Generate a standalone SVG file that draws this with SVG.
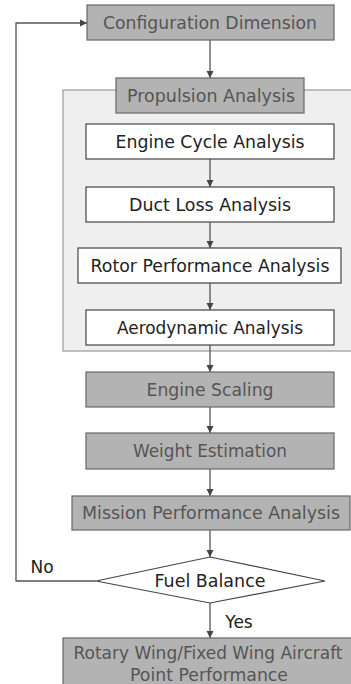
<svg xmlns="http://www.w3.org/2000/svg" width="351" height="684" viewBox="0 0 351 684">
<style>
text{font-family:"DejaVu Sans","Liberation Sans",sans-serif;font-size:17px;text-anchor:middle}
.g rect{fill:#b3b3b3;stroke:#666;stroke-width:1.2}
.g text{fill:#555}
.w rect{fill:#fff;stroke:#444;stroke-width:1.2}
.w text{fill:#222}
.c{fill:none;stroke:#555;stroke-width:1.3}
.lbl{fill:#222}
</style>
<defs>
<marker id="ah" markerWidth="8" markerHeight="8" refX="7" refY="4" orient="auto" markerUnits="userSpaceOnUse">
<path d="M0,0.5 L7,4 L0,7.5 Z" fill="#444"/>
</marker>
</defs>
<rect id="container" x="63" y="90" width="292" height="261" fill="#efefef" stroke="#999" stroke-width="1.2"/>
<g id="connectors">
<line class="c" x1="210" y1="40" x2="210" y2="78" marker-end="url(#ah)"/>
<line class="c" x1="210" y1="159" x2="210" y2="187" marker-end="url(#ah)"/>
<line class="c" x1="210" y1="222" x2="210" y2="248" marker-end="url(#ah)"/>
<line class="c" x1="210" y1="283" x2="210" y2="310" marker-end="url(#ah)"/>
<line class="c" x1="210" y1="345" x2="210" y2="372" marker-end="url(#ah)"/>
<line class="c" x1="210" y1="407" x2="210" y2="433" marker-end="url(#ah)"/>
<line class="c" x1="210" y1="469" x2="210" y2="496" marker-end="url(#ah)"/>
<line class="c" x1="210" y1="530" x2="210" y2="557" marker-end="url(#ah)"/>
<line class="c" x1="210" y1="603" x2="210" y2="638" marker-end="url(#ah)"/>
<polyline class="c" points="96,581 16,581 16,23 87,23" marker-end="url(#ah)"/>
<text class="lbl" x="42" y="573">No</text>
<text class="lbl" x="239" y="628">Yes</text>
</g>
<g id="config" class="g"><rect x="87" y="5" width="247" height="35"/><text x="210" y="29" textLength="214" lengthAdjust="spacingAndGlyphs">Configuration Dimension</text></g>
<g id="propulsion" class="g"><rect x="116" y="78" width="188" height="35"/><text x="211" y="102" textLength="168" lengthAdjust="spacingAndGlyphs">Propulsion Analysis</text></g>
<g id="enginecycle" class="w"><rect x="86" y="124" width="248" height="35"/><text x="210" y="148" textLength="189" lengthAdjust="spacingAndGlyphs">Engine Cycle Analysis</text></g>
<g id="ductloss" class="w"><rect x="86" y="187" width="248" height="35"/><text x="210" y="211" textLength="162" lengthAdjust="spacingAndGlyphs">Duct Loss Analysis</text></g>
<g id="rotor" class="w"><rect x="78" y="248" width="263" height="35"/><text x="210" y="272" textLength="239" lengthAdjust="spacingAndGlyphs">Rotor Performance Analysis</text></g>
<g id="aero" class="w"><rect x="86" y="310" width="248" height="35"/><text x="210" y="334" textLength="186" lengthAdjust="spacingAndGlyphs">Aerodynamic Analysis</text></g>
<g id="scaling" class="g"><rect x="86" y="372" width="248" height="35"/><text x="210" y="396" textLength="127" lengthAdjust="spacingAndGlyphs">Engine Scaling</text></g>
<g id="weight" class="g"><rect x="86" y="433" width="248" height="36"/><text x="210" y="457" textLength="154" lengthAdjust="spacingAndGlyphs">Weight Estimation</text></g>
<g id="mission" class="g"><rect x="72" y="496" width="278" height="34"/><text x="211" y="519" textLength="258" lengthAdjust="spacingAndGlyphs">Mission Performance Analysis</text></g>
<g id="fuel" class="w"><polygon points="210,557 325,581 210,603 96,581" fill="#fff" stroke="#444" stroke-width="1.2"/><text x="210" y="587" textLength="111" lengthAdjust="spacingAndGlyphs">Fuel Balance</text></g>
<g id="final" class="g"><rect x="63" y="638" width="292" height="50"/><text x="208" y="659" textLength="269" lengthAdjust="spacingAndGlyphs">Rotary Wing/Fixed Wing Aircraft</text><text x="209" y="681" textLength="158" lengthAdjust="spacingAndGlyphs">Point Performance</text></g>
</svg>
